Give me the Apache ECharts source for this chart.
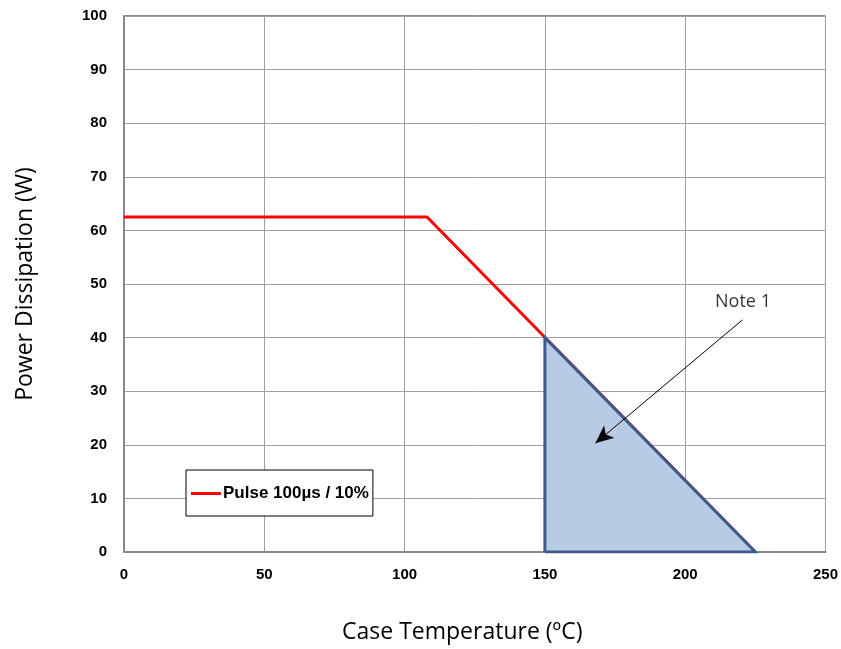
<!DOCTYPE html>
<html>
<head>
<meta charset="utf-8">
<script src="https://cdn.jsdelivr.net/npm/echarts@6/dist/echarts.min.js"></script>
<style>html,body{margin:0;padding:0;background:#fff}#c{width:841px;height:649px}</style>
</head>
<body>
<div id="c"></div>
<script>
// Data
const pulseCurve = [[0, 62.5], [108, 62.5], [225, 0]];
const soaRegion = [[150, 0], [150, 40], [225, 0], [150, 0]];
const noteArrowFrom = [220.4, 43.3];
const noteArrowTo = [168, 20.3];
const noteLabelPos = [220.6, 46.6];
const noteText = 'Note 1';
const seriesName = 'Pulse 100µs / 10%';
const xTitle = 'Case Temperature (ºC)';
const yTitle = 'Power Dissipation (W)';

const chart = echarts.init(document.getElementById('c'), null, {renderer: 'canvas'});
const tickFont = {fontFamily: 'Liberation Sans, Arial', fontWeight: 'bold', fontSize: 15, color: '#000'};
chart.setOption({
  animation: false,
  backgroundColor: '#fff',
  grid: {left: 124, top: 16, right: 15, bottom: 97, show: true, borderColor: '#222', borderWidth: 1, backgroundColor: 'transparent'},
  legend: {
    left: 186, top: 470,
    data: [{name: seriesName, icon: 'rect'}],
    itemWidth: 30, itemHeight: 3,
    borderColor: '#000', borderWidth: 1,
    padding: [15, 4, 14, 5],
    textStyle: {fontFamily: 'Liberation Sans, Arial', fontWeight: 'bold', fontSize: 17, color: '#000', padding: [0, 0, 0, -3]},
    backgroundColor: '#fff'
  },
  xAxis: {
    type: 'value', min: 0, max: 250, interval: 50,
    name: xTitle, nameLocation: 'middle', nameGap: 69,
    nameTextStyle: {fontFamily: 'Open Sans', fontSize: 23, color: '#000', padding: [0, 25, 0, 0]},
    axisLine: {show: true, onZero: false, lineStyle: {color: '#888', width: 2}},
    axisTick: {show: false},
    axisLabel: Object.assign({margin: 15}, tickFont),
    splitLine: {show: true, lineStyle: {color: '#a0a0a0', width: 1}}
  },
  yAxis: {
    type: 'value', min: 0, max: 100, interval: 10,
    name: yTitle, nameLocation: 'middle', nameGap: 87,
    nameTextStyle: {fontFamily: 'Open Sans', fontSize: 23, color: '#000'},
    axisLine: {show: true, onZero: false, lineStyle: {color: '#888', width: 2}},
    axisTick: {show: false},
    axisLabel: Object.assign({margin: 17}, tickFont),
    splitLine: {show: true, lineStyle: {color: '#a0a0a0', width: 1}}
  },
  series: [
    {
      name: seriesName, type: 'line', data: pulseCurve,
      showSymbol: false, symbol: 'none',
      lineStyle: {color: '#ff0000', width: 3},
      itemStyle: {color: '#ff0000'},
      z: 3
    },
    {
      name: 'region', type: 'line', data: soaRegion,
      showSymbol: false, symbol: 'none',
      lineStyle: {color: '#3d5a8a', width: 3, join: 'miter'},
      areaStyle: {color: '#b8cbe4', opacity: 1, origin: 'start'},
      z: 4,
      markLine: {
        silent: true,
        symbol: ['none', 'arrow'],
        symbolSize: [12, 18],
        label: {show: false},
        lineStyle: {color: '#000', width: 1, type: 'solid'},
        data: [[{coord: noteArrowFrom}, {coord: noteArrowTo}]]
      }
    },
    {
      name: 'note', type: 'scatter', data: [noteLabelPos],
      symbolSize: 0,
      label: {show: true, position: 'inside', formatter: noteText, fontFamily: 'Open Sans', fontSize: 18, color: '#000'},
      z: 5
    }
  ]
});
</script>
</body>
</html>
